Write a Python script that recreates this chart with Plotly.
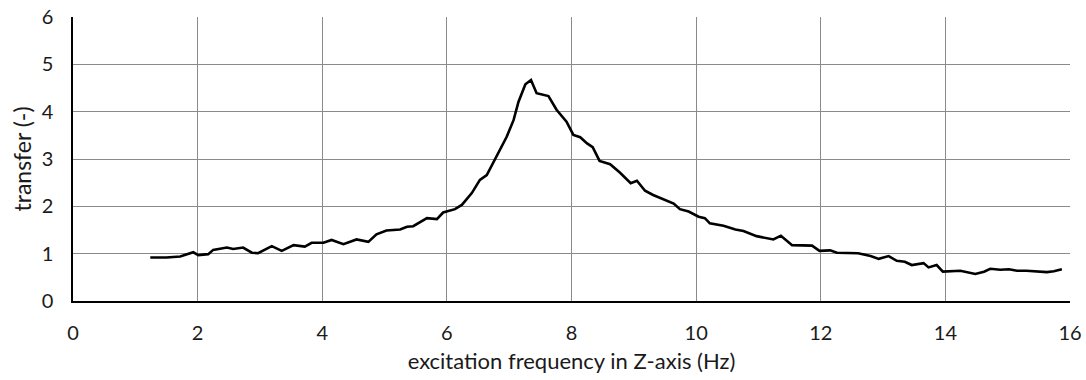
import plotly.graph_objects as go

freq = [1.24, 1.50, 1.72, 1.93, 2.01, 2.17, 2.25, 2.47, 2.57, 2.73, 2.87, 2.97, 3.19, 3.35, 3.54,
        3.72, 3.83, 4.02, 4.15, 4.34, 4.55, 4.74, 4.87, 5.03, 5.25, 5.36, 5.46, 5.68, 5.84, 5.94,
        6.13, 6.24, 6.40, 6.53, 6.64, 6.80, 6.96, 7.07, 7.15, 7.26, 7.35, 7.44, 7.63, 7.76, 7.92,
        8.03, 8.14, 8.25, 8.34, 8.45, 8.62, 8.78, 8.95, 9.05, 9.18, 9.31, 9.56, 9.64, 9.74, 9.88,
        10.04, 10.14, 10.22, 10.44, 10.63, 10.76, 10.97, 11.24, 11.36, 11.54, 11.86, 11.98, 12.15,
        12.26, 12.60, 12.80, 12.93, 13.09, 13.22, 13.35, 13.46, 13.65, 13.73, 13.86, 13.96, 14.24,
        14.48, 14.62, 14.72, 14.88, 15.02, 15.15, 15.30, 15.41, 15.52, 15.63, 15.74, 15.87]
transfer = [0.92, 0.92, 0.94, 1.03, 0.97, 0.99, 1.08, 1.13, 1.10, 1.13, 1.02, 1.01, 1.16, 1.06, 1.18,
            1.15, 1.23, 1.23, 1.29, 1.20, 1.30, 1.25, 1.41, 1.49, 1.51, 1.57, 1.58, 1.75, 1.73, 1.87,
            1.94, 2.03, 2.28, 2.56, 2.66, 3.05, 3.47, 3.82, 4.21, 4.58, 4.67, 4.39, 4.33, 4.04, 3.79,
            3.51, 3.46, 3.33, 3.25, 2.96, 2.89, 2.71, 2.49, 2.54, 2.33, 2.24, 2.10, 2.06, 1.94, 1.89,
            1.78, 1.75, 1.64, 1.59, 1.51, 1.48, 1.37, 1.30, 1.38, 1.18, 1.17, 1.06, 1.07,
            1.02, 1.01, 0.95, 0.89, 0.95, 0.85, 0.83, 0.76, 0.80, 0.71, 0.76, 0.62, 0.64,
            0.57, 0.62, 0.68, 0.66, 0.67, 0.64, 0.64, 0.63, 0.63, 0.61, 0.63, 0.67]

x_ticks = [0, 2, 4, 6, 8, 10, 12, 14, 16]
y_ticks = [0, 1, 2, 3, 4, 5, 6]

font_family = "Lato, 'Open Sans', sans-serif"
text_color = "#1a1a1a"

fig = go.Figure()
fig.add_trace(go.Scatter(x=freq, y=transfer, mode="lines",
                         line=dict(color="black", width=2.6), showlegend=False))

fig.update_layout(
    width=1086, height=380,
    margin=dict(l=73, r=16, t=17, b=79),
    paper_bgcolor="white", plot_bgcolor="white",
    font=dict(family=font_family, size=20, color=text_color),
    xaxis=dict(range=[0, 16], tickvals=x_ticks, showgrid=True, gridcolor="#8a8a8a", gridwidth=1,
               zeroline=False, showline=True, linecolor="black", linewidth=1.5,
               ticks="", ticklabelstandoff=13, automargin=False,
               title=dict(text="excitation frequency in Z-axis (Hz)", standoff=11,
                          font=dict(size=22, color=text_color))),
    yaxis=dict(range=[0, 6], tickvals=y_ticks, showgrid=True, gridcolor="#8a8a8a", gridwidth=1,
               zeroline=False, showline=True, linecolor="black", linewidth=1.5,
               ticks="", ticklabelstandoff=14, automargin=False,
               title=dict(text="transfer (-)", standoff=4,
                          font=dict(size=23, color=text_color))),
)
fig.write_html("out.html")
